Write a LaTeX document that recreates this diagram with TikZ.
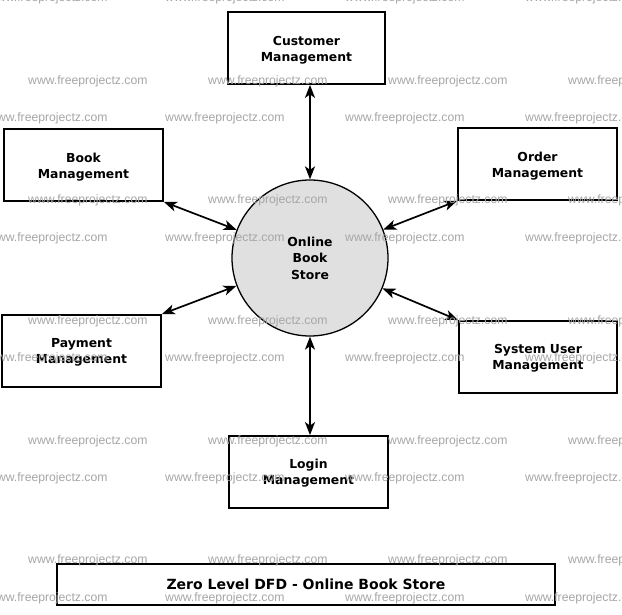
\documentclass[tikz,border=0pt]{standalone}
\usepackage{fontspec}
\setmainfont{DejaVu Sans}
\newfontfamily\wmfont{Liberation Sans}
\usetikzlibrary{arrows.meta,calc}
\begin{document}
\begin{tikzpicture}[x=1pt,y=-1pt,
  procbox/.style={draw=black,line width=1.8pt,fill=white,minimum width=157pt,minimum height=72pt,inner sep=0pt},
  proctext/.style={inner sep=0pt,align=center,font=\bfseries\fontsize{12.4}{16}\selectfont},
  flow/.style={line width=1.7pt,{Stealth[length=13pt,width=10pt,inset=3.5pt]}-{Stealth[length=13pt,width=10pt,inset=3.5pt]}},
  wm/.style={text=black!35,font=\wmfont\fontsize{12.2}{14}\selectfont,inner sep=0pt,anchor=west}
]
\useasboundingbox (0,0) rectangle (622,615);
\fill[white] (0,0) rectangle (622,615);

\node[circle,draw=black,line width=1.3pt,fill=black!12,minimum size=156pt,inner sep=0pt,align=center,font=\bfseries\fontsize{12.4}{16.5}\selectfont] (store) at (310,258) {Online\\Book\\Store};

\node[procbox] (cust) at (306.5,48) {};
\node[proctext] (custt) at ([yshift=-2.5pt]cust.center) {Customer\\Management};
\node[procbox,minimum width=159pt] (book) at (83.5,165) {};
\node[proctext] (bookt) at ([yshift=-2.5pt]book.center) {Book\\Management};
\node[procbox,minimum width=159pt] (order) at (537.5,164) {};
\node[proctext] (ordert) at ([yshift=-2pt]order.center) {Order\\Management};
\node[procbox,minimum width=159pt] (pay) at (81.5,351) {};
\node[proctext] (payt) at ([yshift=-1.5pt]pay.center) {Payment\\Management};
\node[procbox,minimum width=158pt] (sys) at (538,357) {};
\node[proctext] (syst) at ([yshift=-1pt]sys.center) {System User\\Management};
\node[procbox,minimum width=159pt] (login) at (308.5,472) {};
\node[proctext] (logint) at ([yshift=-1.5pt]login.center) {Login\\Management};
\node[draw=black,line width=1.8pt,minimum width=498pt,minimum height=41pt,inner sep=0pt,font=\bfseries\fontsize{14}{16}\selectfont] (title) at (306,584.5) {Zero Level DFD - Online Book Store};

\draw[flow] (store.north |- cust.south) -- (store.north);
\draw[flow] (store.south |- login.north) -- (store.south);
\draw[flow] (book.south east) -- (store);
\draw[flow] (order.south west) -- (store);
\draw[flow] (pay.north east) -- (store);
\draw[flow] (sys.north west) -- (store);

% watermark
\foreach \yy in {81,200,321,441,560} {
  \foreach \xx in {28,208,388,568} {
    \node[wm] (wa) at (\xx,\yy) {www.freeprojectz.com};
  }
}
\foreach \yy in {-2,118,238,358,478,598} {
  \foreach \xx in {-12,165,345,525} {
    \node[wm] (wb) at (\xx,\yy) {www.freeprojectz.com};
  }
}
\end{tikzpicture}
\end{document}
